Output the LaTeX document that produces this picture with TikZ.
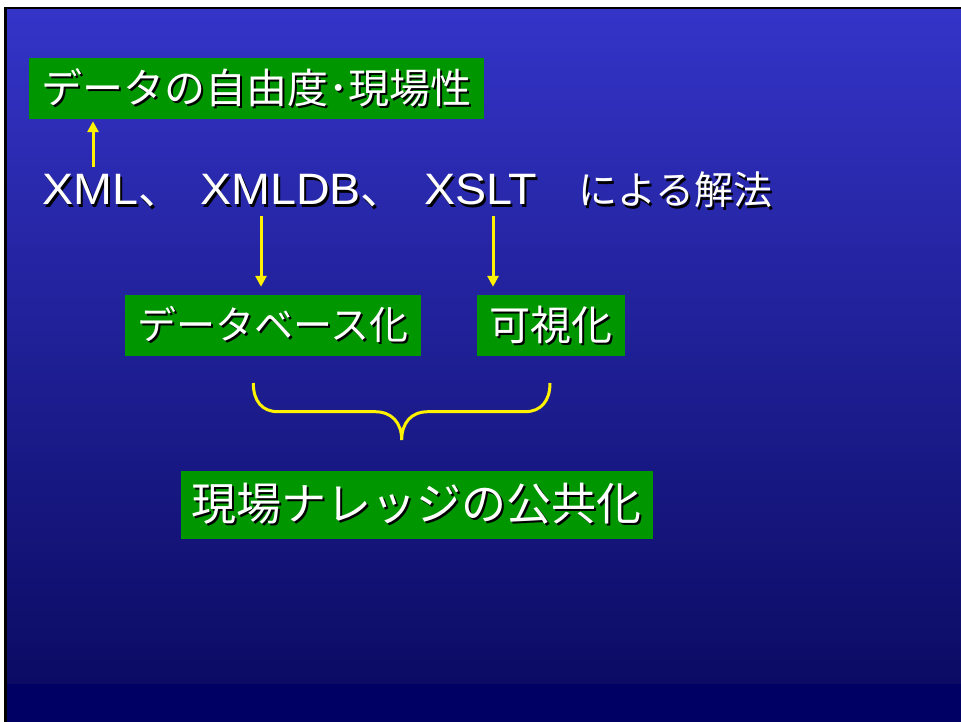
\documentclass[tikz,border=0pt]{standalone}
\usepackage{fontspec}
\setmainfont{Liberation Sans}
\newfontfamily\jp{Noto Sans CJK JP}
\newfontfamily\lat[FakeStretch=1.06]{Liberation Sans}
\usetikzlibrary{arrows.meta}
\definecolor{slidetop}{RGB}{52,52,200}
\definecolor{slidebot}{RGB}{11,11,100}
\definecolor{band}{RGB}{0,0,100}
\definecolor{boxgreen}{RGB}{0,150,0}
\newcommand\shd[1]{\makebox[0pt][l]{\hspace*{2pt}\raisebox{-2pt}{\color{black}#1}}#1}
\begin{document}
\begin{tikzpicture}[x=1pt,y=-1pt,
  lbl/.style={text=white, inner sep=0pt},
  gbox/.style={fill=boxgreen, text=white, inner sep=0pt, minimum height=61pt},
  arr/.style={draw=yellow, line width=3pt, -{Triangle[length=11pt,width=11pt]}},
  bracestyle/.style={draw=yellow, line width=3pt}]
\useasboundingbox (0,0) rectangle (961,722);
\fill[white] (0,0) rectangle (961,722);
\fill[black] (4,7) rectangle (961,722);
\shade[top color=slidetop, bottom color=slidebot] (7,9.5) rectangle (961,684);
\fill[band] (7,684) rectangle (961,722);

% green boxes
\node[gbox, minimum width=455pt] (b1) at (256.5,88.5) {\fontsize{41}{41}\jp\shd{データの自由度･現場性}};
\node[gbox, minimum width=296.5pt] (b2) at (273.2,325.5) {\fontsize{39}{39}\jp\shd{データベース化}};
\node[gbox, minimum width=147.5pt] (b3) at (550.8,325.5) {\fontsize{41}{41}\jp\shd{可視化}};
\node[gbox, minimum width=471.5pt, minimum height=68pt] (b4) at (416.8,505) {\fontsize{45}{45}\jp\shd{現場ナレッジの公共化}};

% text line
\node[lbl, anchor=base west] (t1) at (42,205) {\fontsize{44}{44}\lat\shd{XML{\jp 、}}};
\node[lbl, anchor=base west] (t2) at (200,205) {\fontsize{44}{44}\lat\shd{XMLDB{\jp 、}}};
\node[lbl, anchor=base west] (t3) at (424,205) {\fontsize{44}{44}\lat\shd{XSLT}};
\node[lbl, anchor=base west] (t4) at (578,205) {\fontsize{39}{39}\jp\shd{による解法}};

% arrows
\coordinate (a1s) at (93,167);
\coordinate (a2s) at (261,216);
\coordinate (a3s) at (493,216);
\draw[arr, shorten >=2pt] (a1s) -- (a1s |- b1.south);
\draw[arr, shorten >=8pt] (a2s) -- (a2s |- b2.north);
\draw[arr, shorten >=8pt] (a3s) -- (a3s |- b3.north);

% brace
\draw[bracestyle] (253.3,383) .. controls (253.3,401) and (262,411.7) .. (278,411.7)
  -- (375,411.7) .. controls (392,411.7) and (401.7,423) .. (401.7,440)
  .. controls (401.7,423) and (411,411.7) .. (428,411.7)
  -- (525,411.7) .. controls (541,411.7) and (550,401) .. (550,383);
\end{tikzpicture}
\end{document}
